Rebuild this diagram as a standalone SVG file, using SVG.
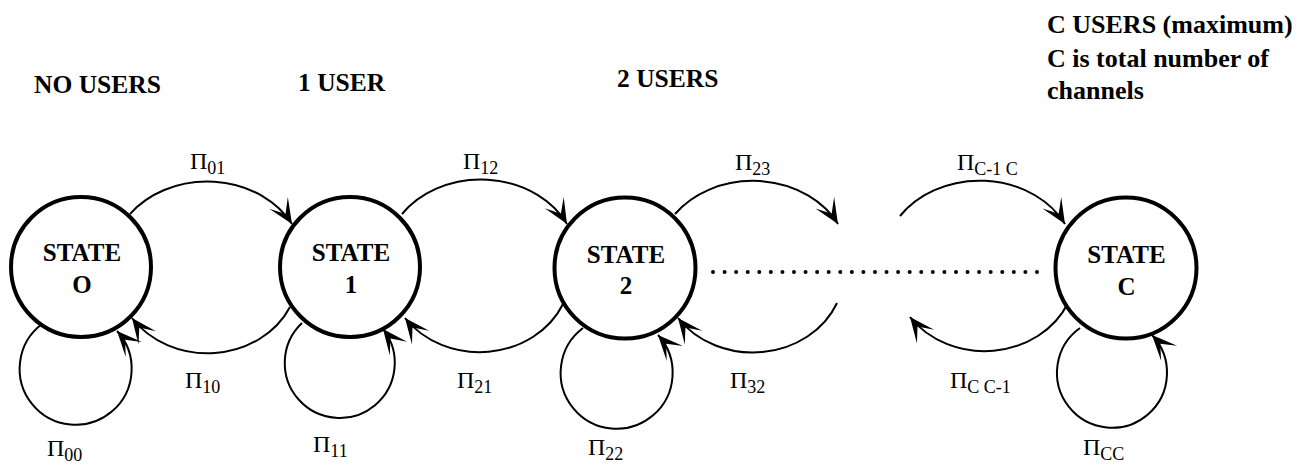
<svg xmlns="http://www.w3.org/2000/svg" width="1315" height="469" viewBox="0 0 1315 469" font-family="'Liberation Serif', serif">
  <style>
    .state { fill: #fff; stroke: #000; stroke-width: 4; }
    .slabel { font-family: 'Liberation Serif', serif; font-weight: 700; font-size: 25px; fill: #000; text-anchor: middle; }
    .head { font-family: 'Liberation Serif', serif; font-weight: 700; font-size: 25.5px; fill: #000; }
    .edge { fill: none; stroke: #000; stroke-width: 2; marker-end: url(#barb); }
    .prob { font-family: 'Liberation Serif', serif; font-size: 24px; fill: #000; }
    .sub { font-size: 18px; }
    .dots { stroke: #000; stroke-width: 4; stroke-linecap: round; stroke-dasharray: 0 11.57; fill: none; }
  </style>
  <defs>
    <marker id="barb" markerUnits="userSpaceOnUse" markerWidth="40" markerHeight="40" refX="0" refY="0" orient="auto" overflow="visible">
      <path d="M0,0 L-25,-11 L-12,0 L-25,11 Z" fill="#000"/>
    </marker>
  </defs>

  <!-- column headings -->
  <g id="headings">
    <text class="head" x="34" y="93">NO USERS</text>
    <text class="head" x="298" y="91">1 USER</text>
    <text class="head" x="617" y="87">2 USERS</text>
    <text class="head" x="1047" y="33" style="font-size:26px">C USERS (maximum)</text>
    <text class="head" x="1047" y="67" style="font-size:26px">C is total number of</text>
    <text class="head" x="1047" y="99" style="font-size:26px">channels</text>
  </g>

  <!-- transitions -->
  <g id="connectors">
    <!-- forward arcs over the top -->
    <path class="edge" d="M130,214 A96,80 0 0 1 292,224"/>
    <path class="edge" d="M402,214 A96,80 0 0 1 567,224"/>
    <path class="edge" d="M675,214 A96,80 0 0 1 838,224"/>
    <path class="edge" d="M900,216 A96,80 0 0 1 1065,224"/>
    <!-- backward arcs underneath -->
    <path class="edge" d="M290,307 A91,80 0 0 1 132,318"/>
    <path class="edge" d="M563,304 A91,80 0 0 1 405,318"/>
    <path class="edge" d="M837,303 A91,80 0 0 1 678,318"/>
    <path class="edge" d="M1068,303 A91,80 0 0 1 910,317"/>
    <!-- self loops -->
    <path class="edge" d="M42,324 A56,56 0 1 0 117,331"/>
    <path class="edge" d="M302,323 A55,55 0 1 0 383,329"/>
    <path class="edge" d="M583,328 A56,56 0 1 0 658,335"/>
    <path class="edge" d="M1080,328 A55,55 0 1 0 1152,335"/>
    <!-- intermediate states omitted -->
    <line class="dots" x1="713" y1="272" x2="1037" y2="272"/>
  </g>

  <!-- transition probabilities -->
  <g id="probabilities">
    <text class="prob" x="190" y="169">Π<tspan class="sub" dy="5">01</tspan></text>
    <text class="prob" x="463" y="169">Π<tspan class="sub" dy="5">12</tspan></text>
    <text class="prob" x="735" y="170">Π<tspan class="sub" dy="5">23</tspan></text>
    <text class="prob" x="957" y="170">Π<tspan class="sub" dy="5">C-1 C</tspan></text>
    <text class="prob" x="185" y="388">Π<tspan class="sub" dy="5">10</tspan></text>
    <text class="prob" x="457" y="388">Π<tspan class="sub" dy="5">21</tspan></text>
    <text class="prob" x="730" y="388">Π<tspan class="sub" dy="5">32</tspan></text>
    <text class="prob" x="950" y="388">Π<tspan class="sub" dy="5">C C-1</tspan></text>
    <text class="prob" x="47" y="456">Π<tspan class="sub" dy="5">00</tspan></text>
    <text class="prob" x="313" y="452">Π<tspan class="sub" dy="5">11</tspan></text>
    <text class="prob" x="588" y="455">Π<tspan class="sub" dy="5">22</tspan></text>
    <text class="prob" x="1083" y="455">Π<tspan class="sub" dy="5">CC</tspan></text>
  </g>

  <!-- states -->
  <g id="state-0">
    <circle class="state" cx="81" cy="267" r="70"/>
    <text class="slabel" x="82" y="261">STATE</text>
    <text class="slabel" x="82" y="293">O</text>
  </g>
  <g id="state-1">
    <circle class="state" cx="350" cy="267" r="70"/>
    <text class="slabel" x="351" y="261">STATE</text>
    <text class="slabel" x="351" y="293">1</text>
  </g>
  <g id="state-2">
    <circle class="state" cx="625" cy="268" r="70.5"/>
    <text class="slabel" x="626" y="263">STATE</text>
    <text class="slabel" x="626" y="294">2</text>
  </g>
  <g id="state-c">
    <circle class="state" cx="1126" cy="268" r="70.5"/>
    <text class="slabel" x="1126.5" y="263">STATE</text>
    <text class="slabel" x="1126.5" y="295">C</text>
  </g>
</svg>
